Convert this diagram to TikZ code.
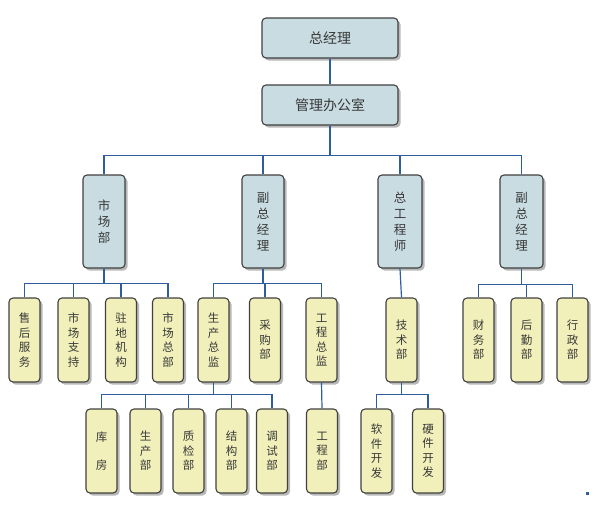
\documentclass[tikz,border=0pt]{standalone}
\usepackage{fontspec}
\setmainfont{Noto Sans CJK SC}
\usetikzlibrary{shadows}
\definecolor{boxblue}{HTML}{C9DCE2}
\definecolor{boxyellow}{HTML}{F2F0BA}
\definecolor{linkblue}{HTML}{2E5E9E}
\definecolor{edgegrey}{HTML}{404040}
\definecolor{txtgrey}{HTML}{383838}
\tikzset{
  box/.style={draw=edgegrey, line width=1.1pt, rounded corners=4pt, inner sep=0pt,
    text=txtgrey, align=center,
    drop shadow={shadow xshift=2.5pt, shadow yshift=-2.5pt, fill=black!28, opacity=1}},
  topbox/.style={box, fill=boxblue, minimum width=136pt, minimum height=40pt,
    font=\fontsize{14}{16}\selectfont},
  midbox/.style={box, fill=boxblue, minimum height=93pt,
    font=\fontsize{12.5}{16}\selectfont},
  leafbox/.style={box, fill=boxyellow, minimum width=31pt, minimum height=84pt,
    font=\fontsize{11.5}{14.5}\selectfont},
  link/.style={draw=linkblue, line width=1.2pt},
}
\begin{document}
\begin{tikzpicture}[x=1pt, y=-1pt]
\useasboundingbox (0,0) rectangle (599,506);

% level 0/1
\node[topbox] (gm) at (330,38) {总经理};
\node[topbox] (office) at (330,105) {管理办公室};

% level 2
\node[midbox, minimum width=42pt] (mkt) at (104,221.5) {市\\场\\部};
\node[midbox, minimum width=42pt] (vpa) at (263,221.5) {副\\总\\经\\理};
\node[midbox, minimum width=44pt] (ce) at (400,221.5) {总\\工\\程\\师};
\node[midbox, minimum width=43pt] (vpb) at (521.5,221.5) {副\\总\\经\\理};

% level 3
\node[leafbox] (svc) at (24.5,340) {售\\后\\服\\务};
\node[leafbox] (msup) at (73.5,340) {市\\场\\支\\持};
\node[leafbox] (post) at (121,340) {驻\\地\\机\\构};
\node[leafbox] (mhq) at (168,340) {市\\场\\总\\部};
\node[leafbox] (prodch) at (213.5,340) {生\\产\\总\\监};
\node[leafbox] (purch) at (265,340) {采\\购\\部};
\node[leafbox] (engch) at (321.5,340) {工\\程\\总\\监};
\node[leafbox] (tech) at (401.5,340) {技\\术\\部};
\node[leafbox] (fin) at (478.5,340) {财\\务\\部};
\node[leafbox] (logi) at (526.5,340) {后\\勤\\部};
\node[leafbox] (admin) at (572.5,340) {行\\政\\部};

% level 4
\node[leafbox] (store) at (101.5,451) {库\\[14pt]房};
\node[leafbox] (prod) at (145.5,451) {生\\产\\部};
\node[leafbox] (qc) at (188.5,451) {质\\检\\部};
\node[leafbox] (struct) at (231.5,451) {结\\构\\部};
\node[leafbox] (test) at (272,451) {调\\试\\部};
\node[leafbox] (eng) at (322,451) {工\\程\\部};
\node[leafbox] (soft) at (376.5,451) {软\\件\\开\\发};
\node[leafbox] (hard) at (428,451) {硬\\件\\开\\发};

% connectors
\draw[link] (gm.south) -- (office.south |- office.north);
\foreach \c in {mkt,vpa,ce,vpb}
  \draw[link] (office.south) -- ++(0,30) -| (\c.north);
\foreach \c in {svc,msup,post,mhq}
  \draw[link] (mkt.south) -- ++(0,15) -| (\c.north);
\foreach \c in {prodch,purch,engch}
  \draw[link] (vpa.south) -- ++(0,15) -| (\c.north);
\draw[link] (ce.south) -- (tech.north);
\foreach \c in {fin,logi,admin}
  \draw[link] (vpb.south) -- ++(0,16) -| (\c.north);
\foreach \c in {store,prod,qc,struct,test}
  \draw[link] (prodch.south) -- ++(0,12) -| (\c.north);
\draw[link] (engch.south) -- (eng.north);
\foreach \c in {soft,hard}
  \draw[link] (tech.south) -- ++(0,12) -| (\c.north);

% small mark
\fill[linkblue] (585.5,491.5) rectangle (588.5,494.5);
\end{tikzpicture}
\end{document}
